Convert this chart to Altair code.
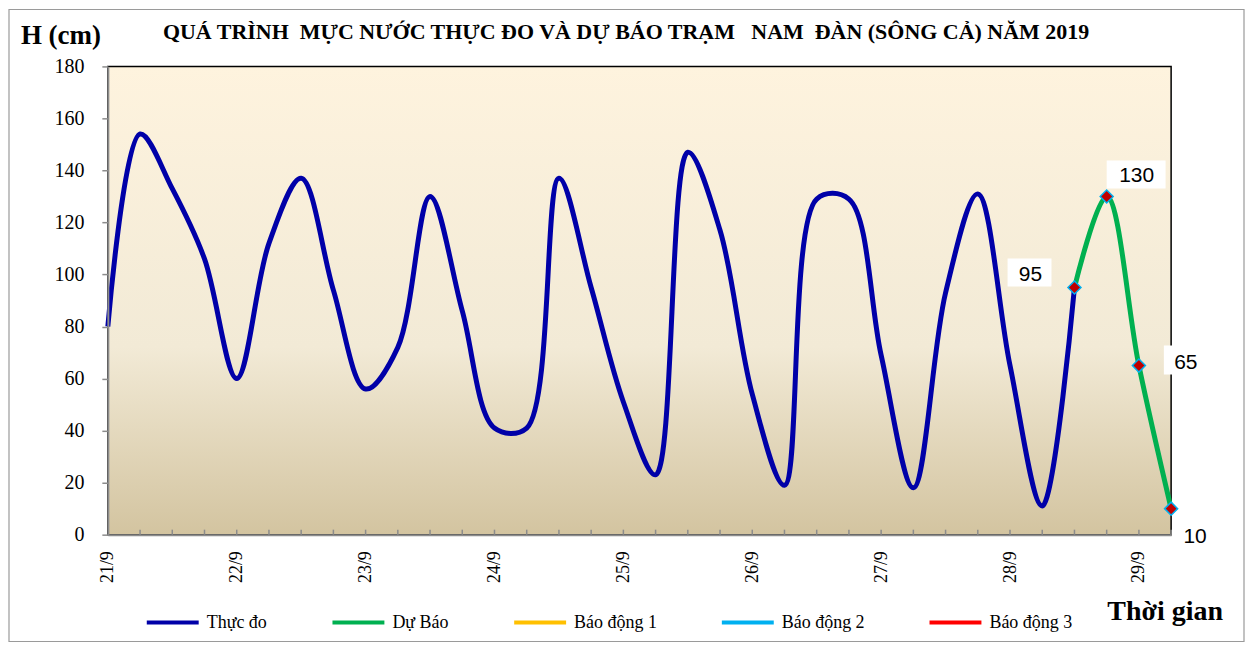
import altair as alt
import pandas as pd

# ---------------- data ----------------
days = ["21/9", "22/9", "23/9", "24/9", "25/9", "26/9", "27/9", "28/9", "29/9"]
obs = [80, 154, 133, 106, 60, 112, 137, 94, 56, 72, 130, 86, 41, 41, 137, 95,
       51, 23, 147, 117, 54, 19, 129, 129, 69, 18, 93, 131, 65, 11, 95]
fc_start = 30
fc = [95, 130, 65, 10]
series = ["Thực đo", "Dự Báo", "Báo động 1", "Báo động 2", "Báo động 3"]
colors = ["#0000A8", "#00B050", "#FFC000", "#00B0F0", "#FF0000"]
y_ticks = list(range(0, 181, 20))

W, H = 1065, 469
SERIF = "Liberation Serif"
SANS = "Liberation Sans"
NB = "\u00a0"

rows = [{"idx": i, "H": v, "series": series[0]} for i, v in enumerate(obs)]
rows += [{"idx": fc_start + i, "H": v, "series": series[1]} for i, v in enumerate(fc)]
df = pd.DataFrame(rows)
n_cat = fc_start + len(fc)
ticks_df = pd.DataFrame({"idx": list(range(1, n_cat))})
one = pd.DataFrame({"a": [0]})

label_expr = "[" + ",".join(f"'{d}'" for d in days) + "][round(datum.value/4)]"

xscale = alt.Scale(domain=[0, n_cat - 1], nice=False, zero=False)
yscale = alt.Scale(domain=[0, 180], nice=False)

xax = alt.Axis(values=list(range(0, n_cat, 4)), labelExpr=label_expr, labelAngle=270,
               labelAlign="right", labelBaseline="middle", labelPadding=16, ticks=False,
               domainColor="#8C8C8C", domainWidth=2, grid=False, title=None,
               labelFont=SERIF, labelFontSize=18, labelColor="#000", zindex=1)
yax = alt.Axis(values=y_ticks, tickSize=6, tickColor="#8C8C8C", tickWidth=1.5,
               domainColor="#8C8C8C", domainWidth=2, grid=False, title=None,
               labelPadding=18, labelFont=SERIF, labelFontSize=20, labelColor="#000", zindex=1)

X = alt.X("idx:Q", scale=xscale, axis=xax)
Y = alt.Y("H:Q", scale=yscale, axis=yax)

grad = alt.Gradient(gradient="linear", x1=0, x2=0, y1=0, y2=1,
                    stops=[alt.GradientStop(color="#FEF3DE", offset=0),
                           alt.GradientStop(color="#F2EAD6", offset=0.6),
                           alt.GradientStop(color="#D3C4A0", offset=1)])

bg = alt.Chart(one).mark_rect(color=grad, stroke="#000", strokeWidth=1.5).encode(
    x=alt.value(0), x2=alt.value(W), y=alt.value(0), y2=alt.value(H))

frame = alt.Chart(one).mark_rect(filled=False, stroke="#9A9A9A", strokeWidth=1.2).encode(
    x=alt.value(-99), x2=alt.value(W + 73), y=alt.value(-57), y2=alt.value(H + 107))

tick_rules = alt.Chart(ticks_df).mark_rule(color="#8C8C8C", strokeWidth=1.5).encode(
    x=alt.X("idx:Q", scale=xscale), y=alt.value(H), y2=alt.value(H - 5))

legend = alt.Legend(orient="none", legendX=37, legendY=529, direction="horizontal", title=None,
                    symbolType="stroke", symbolStrokeWidth=4, symbolSize=2704,
                    labelFont=SERIF, labelFontSize=18, labelOffset=6, columnPadding=57,
                    labelLimit=0, labelColor="#000")

lines = alt.Chart(df).mark_line(interpolate="catmull-rom", strokeWidth=5).encode(
    x=X, y=Y,
    color=alt.Color("series:N", scale=alt.Scale(domain=series, range=colors), legend=legend))

fc_base = alt.Chart(df).transform_filter(alt.datum.series == series[1])

points = fc_base.mark_point(shape="diamond", filled=True, fill="#C00000", stroke="#00B0F0",
                            strokeWidth=1.5, size=170, opacity=1).encode(x=X, y=Y)

# label boxes (offsets relative to each forecast point)
box_specs = [(30, -67, -23, -29, -1), (31, 0, 59, -36, -8), (32, 25, 71, -20, 9)]
boxes = []
for idx, xo, x2o, yo, y2o in box_specs:
    boxes.append(
        fc_base.transform_filter(alt.datum.idx == idx).mark_rect(
            fill="white", xOffset=xo, x2Offset=x2o, yOffset=yo, y2Offset=y2o).encode(
            x=X, x2="idx:Q", y=Y, y2="H:Q"))

label_specs = [(30, -44, -13), (31, 30, -21), (32, 47, -3), (33, 24, 28)]
labels = []
for idx, dx, dy in label_specs:
    labels.append(
        fc_base.transform_filter(alt.datum.idx == idx).mark_text(
            font=SANS, fontSize=21, color="#000", dx=dx, dy=dy, align="center",
            baseline="middle").encode(x=X, y=Y, text="H:Q"))

title_text = ("QUÁ TRÌNH" + NB * 2 + "MỰC NƯỚC THỰC ĐO VÀ DỰ BÁO TRẠM" + NB * 3 +
              "NAM" + NB * 2 + "ĐÀN (SÔNG CẢ) NĂM 2019")
title = alt.Chart(one).mark_text(
    text=title_text, font=SERIF, fontSize=22, fontWeight="bold", color="#000", align="center",
    baseline="middle").encode(x=alt.value(519), y=alt.value(-34))
ylab = alt.Chart(one).mark_text(text="H (cm)", font=SERIF, fontSize=27, fontWeight="bold",
                                color="#000", align="center", baseline="middle").encode(
    x=alt.value(-47), y=alt.value(-30))
xlab = alt.Chart(one).mark_text(text="Thời gian", font=SERIF, fontSize=28, fontWeight="bold",
                                color="#000", align="center", baseline="middle").encode(
    x=alt.value(1059), y=alt.value(546))

chart = alt.layer(frame, bg, tick_rules, lines, *boxes, points, *labels, title, ylab, xlab).properties(
    width=W, height=H,
    autosize=alt.AutoSizeParams(type="none"),
    padding={"left": 100, "top": 58, "right": 75, "bottom": 109},
).configure_view(stroke=None)

chart.save("out.html", embed_options={"renderer": "svg", "actions": False})
